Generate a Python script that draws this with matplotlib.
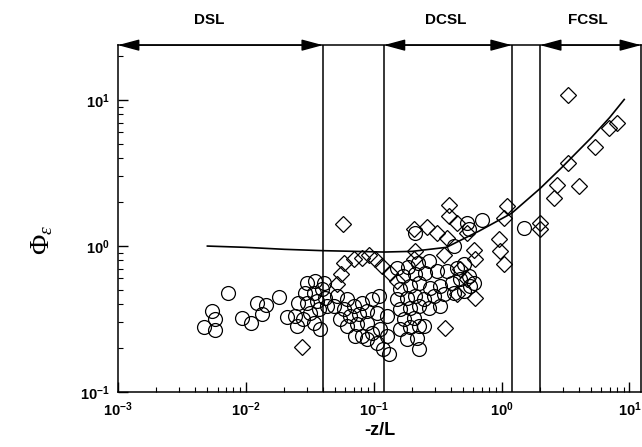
import numpy as np
import matplotlib.pyplot as plt
from matplotlib.ticker import FuncFormatter, LogLocator, NullFormatter
from matplotlib.transforms import blended_transform_factory

plt.rcParams['mathtext.fontset'] = 'custom'
plt.rcParams['mathtext.rm'] = 'Liberation Serif'
plt.rcParams['mathtext.it'] = 'Liberation Serif:italic'
plt.rcParams['mathtext.bf'] = 'Liberation Sans:bold'
plt.rcParams['font.family'] = ['Liberation Sans', 'DejaVu Sans']

# circles (-z/L, phi_eps)
circle_x = [0.0073, 0.0054, 0.0057, 0.0047, 0.0057, 0.0094, 0.0110, 0.0123, 0.0144, 0.0134,
            0.0182, 0.0210, 0.0243, 0.0257, 0.0252,
            0.030, 0.0348, 0.0405, 0.0291, 0.0338, 0.0393, 0.030, 0.0359, 0.0417, 0.0318,
            0.037, 0.043, 0.0338, 0.0282, 0.0381,
            0.0515, 0.0617, 0.0486, 0.0581, 0.0695, 0.0807, 0.0968, 0.109, 0.0547, 0.0655,
            0.0761, 0.0885, 0.106, 0.0617, 0.0738, 0.0885, 0.0807, 0.0968, 0.112, 0.106,
            0.0885, 0.0716, 0.119, 0.127, 0.127, 0.131,
            0.161, 0.193, 0.224, 0.152, 0.182, 0.211, 0.161, 0.193, 0.224, 0.171,
            0.205, 0.161, 0.193, 0.224, 0.182, 0.218, 0.224,
            0.152, 0.185, 0.22, 0.17, 0.21,
            0.269, 0.253, 0.313, 0.374, 0.448, 0.505, 0.552, 0.604, 0.277, 0.332,
            0.41, 0.475, 0.245, 0.294, 0.352, 0.421, 0.505, 0.569, 0.269, 0.332,
            0.245, 0.421, 0.70, 0.536, 0.552, 0.211, 1.49]
circle_y = [0.48, 0.36, 0.315, 0.28, 0.265, 0.32, 0.296, 0.405, 0.393, 0.34,
            0.445, 0.325, 0.33, 0.405, 0.282,
            0.561, 0.575, 0.561, 0.479, 0.479, 0.505, 0.409, 0.42, 0.443, 0.35,
            0.369, 0.388, 0.299, 0.315, 0.269,
            0.455, 0.432, 0.388, 0.369, 0.388, 0.409, 0.432, 0.455, 0.315, 0.332,
            0.341, 0.359, 0.35, 0.284, 0.291, 0.299, 0.243, 0.255, 0.269, 0.218,
            0.23, 0.243, 0.197, 0.332, 0.243, 0.182,
            0.505, 0.532, 0.561, 0.432, 0.443, 0.455, 0.369, 0.378, 0.388, 0.315,
            0.323, 0.269, 0.277, 0.284, 0.23, 0.236, 0.197,
            0.71, 0.72, 0.77, 0.62, 0.64,
            0.787, 0.656, 0.673, 0.673, 0.71, 0.748, 0.622, 0.561, 0.519, 0.532,
            0.561, 0.591, 0.431, 0.454, 0.467, 0.48, 0.491, 0.532, 0.379, 0.388,
            0.284, 1.0, 1.50, 1.44, 1.30, 1.23, 1.33]

# diamonds
diamond_x = [0.0274, 0.0581, 0.0695, 0.0807, 0.0912, 0.103, 0.0553, 0.0515, 0.116, 0.135,
             0.152, 0.0574,
             0.385, 0.385, 0.448, 0.205, 0.261, 0.313, 0.374, 0.536, 0.604, 0.623,
             0.205, 0.211, 0.352, 0.475, 0.536, 0.623, 0.448, 0.363,
             3.29, 8.02, 6.89, 5.42, 3.29, 4.01, 2.69, 2.59, 2.01, 2.01,
             1.10, 1.04, 0.948, 0.977, 1.04]
diamond_y = [0.202, 0.767, 0.809, 0.83, 0.875, 0.809, 0.64, 0.546, 0.728, 0.656,
             0.575, 1.42,
             1.92, 1.60, 1.44, 1.31, 1.36, 1.23, 1.14, 1.23, 0.946, 0.809,
             0.809, 0.922, 0.875, 0.692, 0.591, 0.443, 0.467, 0.276,
             10.8, 6.93, 6.41, 4.75, 3.73, 2.56, 2.63, 2.13, 1.44, 1.30,
             1.87, 1.56, 1.11, 0.921, 0.748]

# fitted curve
curve_x = [0.005, 0.01, 0.02, 0.04, 0.07, 0.12, 0.2, 0.37, 0.67, 1.2, 2.0, 3.0, 5.0, 7.0, 9.1]
curve_y = [1.0, 0.98, 0.95, 0.93, 0.92, 0.91, 0.92, 0.98, 1.27, 1.68, 2.48, 3.5, 5.5, 7.6, 10.1]

# stability regimes
bounds = [0.04, 0.12, 1.2, 2.0]
regions = ['DSL', 'DCSL', 'FCSL']
region_start = [1e-3, 0.12, 2.0]
region_end = [0.04, 1.2, 12.3]
label_x = [0.0052, 0.366, 4.7]

xmin, xmax = 1e-3, 12.3
ymin, ymax = 0.1, 23.8

fig = plt.figure(figsize=(6.42, 4.47), dpi=100)
ax = fig.add_axes([0.1838, 0.123, 0.8146, 0.776])
ax.set_xscale('log')
ax.set_yscale('log')
ax.set_xlim(xmin, xmax)
ax.set_ylim(ymin, ymax)

ax.plot(circle_x, circle_y, 'o', ms=10, mfc='none', mec='k', mew=0.9)
ax.plot(diamond_x, diamond_y, 'D', ms=8.5, mfc='none', mec='k', mew=0.9)
ax.plot(curve_x, curve_y, 'k-', lw=1.2)

for b in bounds:
    ax.axvline(b, color='k', lw=1.1)

trans = blended_transform_factory(ax.transData, ax.transAxes)
for name, x0, x1, lx in zip(regions, region_start, region_end, label_x):
    ax.annotate('', xy=(x1, ymax), xytext=(x0, ymax),
                arrowprops=dict(arrowstyle='<|-|>,head_length=1.3,head_width=0.35',
                                color='k', lw=1, shrinkA=0, shrinkB=0, mutation_scale=10),
                annotation_clip=False)
    ax.text(lx, 1.072, name, transform=trans, ha='center', va='center',
            fontsize=11, fontweight='bold')

for s in ax.spines.values():
    s.set_linewidth(1.1)

ax.xaxis.set_major_locator(LogLocator(base=10, numticks=10))
ax.xaxis.set_minor_locator(LogLocator(base=10, subs=range(2, 10), numticks=10))
ax.yaxis.set_major_locator(LogLocator(base=10, numticks=10))
ax.yaxis.set_minor_locator(LogLocator(base=10, subs=range(2, 10), numticks=10))
fmt = FuncFormatter(lambda v, p: r'$\mathbf{10^{%d}}$' % round(np.log10(v)) if v > 0 else '')
ax.xaxis.set_major_formatter(fmt)
ax.yaxis.set_major_formatter(fmt)
ax.xaxis.set_minor_formatter(NullFormatter())
ax.yaxis.set_minor_formatter(NullFormatter())
ax.tick_params(which='both', direction='in', top=False, right=False)
ax.tick_params(which='major', length=7, width=1, labelsize=10.5, pad=6)
ax.tick_params(which='minor', length=3.5, width=0.8)

fig.text(0.592, 0.038, '-z/L', ha='center', va='center', fontsize=13, fontweight='bold')
fig.text(42 / 642, 1 - 240 / 447, r'$\Phi_{\varepsilon}$', ha='center', va='center',
         fontsize=20, rotation=90)

fig.savefig('out.png', dpi=100)
